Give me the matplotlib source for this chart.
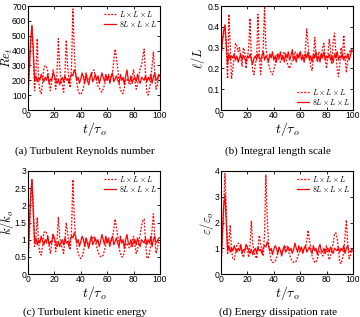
import matplotlib.pyplot as plt
import numpy as np

plt.rcParams['mathtext.fontset'] = 'cm'
plt.rcParams['font.family'] = ['Liberation Sans', 'DejaVu Sans']

# time axis
t = np.arange(0, 101)

# (a) turbulent Reynolds number
re_small = [100, 250, 420, 560, 400, 130, 250, 480, 200, 130, 110, 180, 280, 300, 290, 260, 180, 130, 200, 270,
            230, 140, 250, 480, 300, 200, 170, 120, 250, 470, 300, 200, 150, 300, 680, 420, 250, 180, 130, 110,
            105, 120, 150, 200, 250, 220, 200, 210, 240, 260, 270, 230, 190, 160, 150, 130, 120, 140, 170, 200,
            230, 240, 220, 230, 250, 330, 410, 350, 280, 180, 140, 120, 110, 150, 200, 210, 190, 170, 180, 230,
            270, 200, 140, 170, 230, 280, 300, 360, 410, 250, 120, 100, 140, 200, 300, 390, 250, 140, 170, 230, 220]
re_big = [100, 300, 470, 570, 400, 200, 230, 190, 220, 200, 240, 210, 190, 220, 200, 240, 180, 210, 200, 250,
          230, 200, 180, 210, 170, 200, 220, 190, 230, 200, 210, 180, 220, 240, 230, 270, 250, 200, 220, 180,
          210, 250, 220, 180, 240, 200, 170, 220, 250, 190, 210, 240, 200, 230, 180, 210, 250, 220, 190, 240,
          200, 230, 180, 220, 250, 190, 210, 230, 200, 180, 240, 200, 220, 170, 230, 270, 200, 190, 230, 180,
          210, 220, 190, 240, 200, 180, 220, 210, 200, 230, 190, 220, 200, 240, 180, 220, 250, 200, 210, 240, 230]

# (b) integral length scale
l_small = [0.25, 0.32, 0.37, 0.40, 0.30, 0.15, 0.46, 0.30, 0.15, 0.20, 0.25, 0.32, 0.31, 0.28, 0.30, 0.25, 0.21, 0.30, 0.28, 0.20,
           0.25, 0.30, 0.44, 0.25, 0.19, 0.17, 0.22, 0.25, 0.46, 0.27, 0.17, 0.25, 0.30, 0.50, 0.30, 0.26, 0.22, 0.20, 0.18, 0.17,
           0.19, 0.22, 0.26, 0.27, 0.24, 0.23, 0.25, 0.27, 0.28, 0.26, 0.23, 0.21, 0.20, 0.22, 0.24, 0.26, 0.28, 0.27, 0.25, 0.26,
           0.28, 0.27, 0.26, 0.24, 0.30, 0.39, 0.31, 0.25, 0.21, 0.19, 0.24, 0.35, 0.26, 0.23, 0.28, 0.27, 0.25, 0.30, 0.32, 0.24,
           0.20, 0.27, 0.34, 0.29, 0.22, 0.33, 0.37, 0.28, 0.20, 0.16, 0.22, 0.30, 0.25, 0.36, 0.26, 0.18, 0.24, 0.27, 0.29, 0.28, 0.28]
l_big = [0.25, 0.33, 0.38, 0.41, 0.32, 0.22, 0.27, 0.24, 0.26, 0.25, 0.27, 0.24, 0.26, 0.23, 0.25, 0.27, 0.24, 0.26, 0.25, 0.23,
         0.26, 0.25, 0.27, 0.24, 0.22, 0.25, 0.26, 0.24, 0.27, 0.25, 0.24, 0.26, 0.28, 0.24, 0.26, 0.25, 0.23, 0.27, 0.25, 0.28,
         0.24, 0.26, 0.23, 0.27, 0.25, 0.28, 0.24, 0.26, 0.23, 0.27, 0.25, 0.28, 0.24, 0.26, 0.29, 0.24, 0.26, 0.23, 0.27, 0.25,
         0.28, 0.24, 0.26, 0.23, 0.27, 0.25, 0.28, 0.24, 0.26, 0.23, 0.27, 0.25, 0.28, 0.24, 0.26, 0.23, 0.27, 0.25, 0.28, 0.24,
         0.26, 0.25, 0.27, 0.24, 0.26, 0.23, 0.27, 0.25, 0.28, 0.24, 0.26, 0.25, 0.27, 0.24, 0.26, 0.25, 0.27, 0.24, 0.26, 0.29, 0.28]

# (c) turbulent kinetic energy
k_small = [0.35, 1.0, 2.0, 2.75, 2.0, 0.8, 1.1, 1.65, 0.9, 0.6, 0.55, 0.8, 1.2, 1.25, 1.2, 1.1, 0.8, 0.6, 0.9, 1.15,
           1.0, 0.65, 1.0, 1.65, 1.1, 0.85, 0.75, 0.6, 1.0, 1.5, 1.2, 0.85, 0.7, 1.3, 2.75, 1.7, 1.1, 0.8, 0.6, 0.5,
           0.45, 0.5, 0.65, 0.85, 1.05, 0.95, 0.85, 0.9, 1.0, 1.05, 1.1, 0.95, 0.8, 0.65, 0.55, 0.5, 0.5, 0.55, 0.7, 0.85,
           0.95, 1.0, 0.9, 0.95, 1.05, 1.3, 1.6, 1.35, 1.1, 0.75, 0.6, 0.5, 0.5, 0.65, 0.85, 0.9, 0.8, 0.75, 0.8, 0.95,
           1.1, 0.85, 0.6, 0.7, 0.95, 1.15, 1.4, 1.55, 1.6, 1.0, 0.5, 0.45, 0.6, 0.85, 1.3, 1.75, 1.1, 0.6, 0.75, 0.95, 0.9]
k_big = [0.4, 1.4, 2.3, 2.75, 1.8, 0.9, 1.05, 0.85, 1.0, 0.9, 1.1, 0.95, 0.85, 1.0, 0.9, 1.1, 0.85, 0.95, 0.9, 1.15,
         1.05, 0.9, 0.8, 0.95, 0.8, 0.9, 1.0, 0.85, 1.05, 0.9, 0.95, 0.8, 1.0, 1.1, 1.05, 1.2, 1.1, 0.9, 1.0, 0.8,
         0.95, 1.1, 1.0, 0.8, 1.05, 0.9, 0.75, 0.95, 1.1, 0.85, 0.95, 1.05, 0.9, 1.0, 0.8, 0.95, 1.15, 1.0, 0.85, 1.1,
         0.9, 1.05, 0.8, 1.0, 1.1, 0.85, 0.95, 1.05, 0.9, 0.8, 1.1, 0.9, 1.0, 0.75, 1.0, 1.15, 0.9, 0.85, 1.0, 0.8,
         0.95, 1.0, 0.85, 1.05, 0.9, 0.8, 1.0, 0.95, 0.9, 1.05, 0.85, 1.0, 0.9, 1.1, 0.8, 1.0, 1.1, 0.9, 0.95, 1.05, 1.05]

# (d) energy dissipation rate
eps_small = [0.3, 1.2, 2.6, 3.9, 2.5, 0.8, 1.2, 1.9, 0.9, 0.6, 0.55, 0.8, 1.1, 1.2, 1.15, 1.05, 0.8, 0.65, 0.9, 1.1,
             0.95, 0.65, 1.1, 2.05, 1.2, 0.85, 0.7, 0.6, 1.0, 1.5, 1.2, 0.85, 0.7, 1.6, 3.85, 2.2, 1.2, 0.8, 0.55, 0.45,
             0.45, 0.5, 0.6, 0.8, 1.0, 0.9, 0.85, 0.9, 1.0, 1.05, 1.1, 0.9, 0.75, 0.6, 0.5, 0.45, 0.45, 0.5, 0.65, 0.8,
             0.9, 1.0, 0.9, 0.95, 1.05, 1.3, 1.7, 1.3, 1.05, 0.7, 0.55, 0.45, 0.45, 0.6, 0.8, 0.9, 0.8, 0.7, 0.8, 0.95,
             1.1, 0.8, 0.55, 0.7, 0.95, 1.2, 1.55, 1.6, 1.4, 0.9, 0.45, 0.4, 0.6, 0.85, 1.5, 2.1, 1.2, 0.6, 0.7, 0.9, 0.85]
eps_big = [0.3, 1.5, 2.6, 3.1, 2.0, 0.9, 1.1, 0.85, 1.0, 0.9, 1.1, 0.95, 0.85, 1.0, 0.9, 1.15, 0.8, 0.95, 0.9, 1.15,
           1.05, 0.9, 0.8, 0.95, 0.75, 0.9, 1.0, 0.8, 1.05, 0.9, 0.95, 0.8, 1.0, 1.1, 1.05, 1.25, 1.1, 0.9, 1.0, 0.75,
           0.95, 1.1, 1.0, 0.8, 1.05, 0.9, 0.7, 0.95, 1.1, 0.85, 0.95, 1.05, 0.9, 1.0, 0.8, 0.95, 1.2, 1.0, 0.85, 1.1,
           0.9, 1.05, 0.8, 1.0, 1.1, 0.85, 0.95, 1.05, 0.9, 0.8, 1.1, 0.9, 1.0, 0.75, 1.0, 1.15, 0.9, 0.85, 1.0, 0.8,
           0.95, 1.0, 0.85, 1.05, 0.9, 0.8, 1.0, 0.95, 0.9, 1.05, 0.85, 1.0, 0.9, 1.1, 0.8, 1.0, 1.1, 0.9, 0.85, 0.95, 0.9]

W, H = 360, 317
fig = plt.figure(figsize=(3.6, 3.17), dpi=100)

panels = [
    # (data small, data big, ylabel, ylim, yticks, ticklabels, legend loc, caption, box px, ylabel x px, caption y px)
    (re_small, re_big, r'$Re_t$', 700, np.arange(0, 701, 100), None, 'upper right',
     '(a) Turbulent Reynolds number', (28, 6, 160, 110), 7, 151),
    (l_small, l_big, r'$\ell/L$', 0.5, np.arange(0, 0.51, 0.1), ['0', '0.1', '0.2', '0.3', '0.4', '0.5'], 'lower right',
     '(b) Integral length scale', (221, 6, 353, 110), 198, 151),
    (k_small, k_big, r'$k/k_o$', 3, np.arange(0, 3.01, 0.5), ['0', '0.5', '1', '1.5', '2', '2.5', '3'], 'upper right',
     '(c) Turbulent kinetic energy', (28, 171, 160, 274), 7, 312),
    (eps_small, eps_big, r'$\varepsilon/\varepsilon_o$', 4, np.arange(0, 4.01, 1), None, 'upper right',
     '(d) Energy dissipation rate', (221, 171, 353, 274), 207, 312),
]

for small, big, ylab, ymax, yt, ytl, loc, cap, (x0, y0, x1, y1), ylx, capy in panels:
    ax = fig.add_axes([x0 / W, 1 - y1 / H, (x1 - x0) / W, (y1 - y0) / H])
    ax.plot(t, small, color='red', lw=0.9, ls=(0, (1.5, 1.2)), label=r'$L\times L\times L$')
    ax.plot(t, big, color='red', lw=0.9, label=r'$8L\times L\times L$')
    ax.set_xlim(0, 100)
    ax.set_ylim(0, ymax)
    ax.set_xticks([0, 20, 40, 60, 80, 100])
    ax.set_yticks(yt)
    if ytl is not None:
        ax.set_yticklabels(ytl)
    ax.tick_params(direction='in', length=2, width=0.6, labelsize=6.2, pad=1, top=True, right=True)
    for s in ax.spines.values():
        s.set_linewidth(0.8)
    ax.set_xlabel(r'$t/\tau_o$', fontsize=10, labelpad=0)
    ax.set_ylabel(ylab, fontsize=9, va='center')
    ax.yaxis.set_label_coords((ylx - x0) / (x1 - x0), 0.5)
    ax.legend(loc=loc, fontsize=5.5, frameon=False, handlelength=1.6, handletextpad=0.3,
              labelspacing=0.0, borderaxespad=0.3, borderpad=0.1)
    fig.text((x0 + x1) / 2 / W - 0.025, 1 - capy / H, cap, fontsize=8,
             family='Liberation Serif', ha='center', va='center')

fig.savefig('out.png', dpi=100)
